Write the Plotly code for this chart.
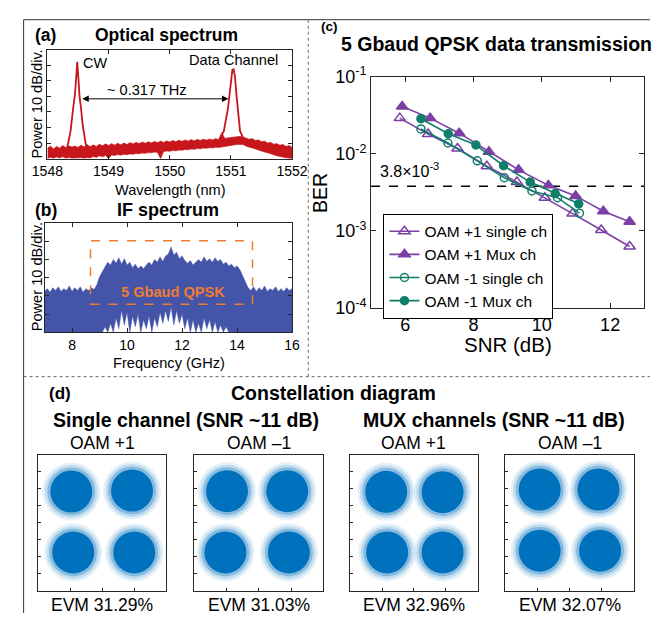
import plotly.graph_objects as go

W, H = 666, 623
FONT = "Liberation Sans, Arial, sans-serif"

# ---------------- data: (a) optical spectrum ----------------
osa_wl = [1548.00, 1548.05, 1548.10, 1548.15, 1548.20, 1548.25, 1548.30, 1548.35, 1548.40, 1548.45,
          1548.50, 1548.55, 1548.60, 1548.65, 1548.70, 1548.75, 1548.80, 1548.85, 1548.90, 1548.95,
          1549.00, 1549.05, 1549.10, 1549.15, 1549.20, 1549.25, 1549.30, 1549.35, 1549.40, 1549.45,
          1549.50, 1549.55, 1549.60, 1549.65, 1549.70, 1549.75, 1549.80, 1549.85, 1549.90, 1549.95,
          1550.00, 1550.05, 1550.10, 1550.15, 1550.20, 1550.25, 1550.30, 1550.35, 1550.40, 1550.45,
          1550.50, 1550.55, 1550.60, 1550.65, 1550.70, 1550.75, 1550.80, 1550.85, 1550.90, 1550.95,
          1551.00, 1551.05, 1551.10, 1551.15, 1551.20, 1551.25, 1551.30, 1551.35, 1551.40, 1551.45,
          1551.50, 1551.55, 1551.60, 1551.65, 1551.70, 1551.75, 1551.80, 1551.85, 1551.90, 1551.95,
          1552.00]
osa_floor_hi = [6.5, 8.0, 6.2, 7.8, 6.6, 8.4, 7.0, 8.2, 7.4, 8.0,
                7.2, 8.6, 7.4, 9.0, 7.6, 8.8, 7.8, 9.2, 8.2, 9.4,
                8.4, 9.6, 8.6, 9.8, 8.8, 10.0, 9.0, 10.2, 9.4, 10.4,
                9.6, 10.6, 9.8, 10.8, 10.0, 11.0, 10.2, 11.2, 10.4, 11.4,
                10.6, 11.6, 10.8, 11.8, 11.0, 12.0, 11.2, 12.2, 11.4, 12.3,
                11.6, 12.4, 11.8, 12.5, 12.0, 12.8, 12.2, 16.5, 13.0, 13.4,
                13.6, 13.8, 14.0, 14.2, 13.8, 13.2, 12.4, 12.8, 11.6, 12.0,
                10.8, 11.2, 10.0, 10.4, 9.2, 9.6, 8.6, 9.0, 7.8, 8.4,
                7.2]
osa_floor_lo = [0.3, 0.8, 0.3, 1.0, 0.4, 1.2, 0.3, 0.8, 0.3, 0.5,
                0.3, 0.5, 0.3, 0.6, 0.4, 1.4, 0.8, 1.8, 1.2, 2.0,
                0.0, 2.4, 2.0, 2.6, 2.2, 2.8, 2.5, 3.0, 2.8, 3.3,
                3.1, 3.6, 3.4, 3.9, 3.7, 4.2, 4.0, 0.0, 4.5, 4.9,
                4.7, 5.2, 5.0, 5.5, 5.4, 5.9, 5.7, 6.2, 6.0, 6.5,
                6.3, 6.8, 6.6, 7.0, 6.9, 7.3, 7.2, 7.6, 8.0, 8.4,
                8.6, 8.8, 9.0, 9.2, 9.0, 8.0, 7.6, 6.8, 6.2, 5.4,
                5.0, 4.2, 3.8, 3.0, 2.6, 1.8, 1.4, 0.8, 0.5, 0.3,
                0.3]
cw_wl = [1548.316, 1548.379, 1548.420, 1548.451, 1548.472, 1548.488, 1548.508, 1548.524,
         1548.550, 1548.576, 1548.617, 1548.654]
cw_db = [5.4, 17.8, 32.2, 41.5, 52.9, 62.2, 50.8, 40.5, 32.2, 21.9, 11.6, 3.3]
dc_wl = [1550.807, 1550.885, 1550.952, 1550.993, 1551.024, 1551.045, 1551.066, 1551.092,
         1551.118, 1551.149, 1551.196]
dc_db = [11.6, 17.8, 32.2, 44.6, 57.0, 57.4, 52.9, 40.5, 28.1, 17.8, 13.6]
spacing_wl = [1548.545, 1550.96]
spacing_db = 38.4
osa_ticks = [1548, 1549, 1550, 1551, 1552]

# ---------------- data: (b) IF spectrum ----------------
if_freq = [7.0, 7.1, 7.2, 7.3, 7.4, 7.5, 7.6, 7.7, 7.8, 7.9,
           8.0, 8.1, 8.2, 8.3, 8.4, 8.5, 8.6, 8.7, 8.8, 8.9,
           9.0, 9.1, 9.2, 9.3, 9.4, 9.5, 9.6, 9.7, 9.8, 9.9,
           10.0, 10.1, 10.2, 10.3, 10.4, 10.5, 10.6, 10.7, 10.8, 10.9,
           11.0, 11.1, 11.2, 11.3, 11.4, 11.5, 11.6, 11.7, 11.8, 11.9,
           12.0, 12.1, 12.2, 12.3, 12.4, 12.5, 12.6, 12.7, 12.8, 12.9,
           13.0, 13.1, 13.2, 13.3, 13.4, 13.5, 13.6, 13.7, 13.8, 13.9,
           14.0, 14.1, 14.2, 14.3, 14.4, 14.5, 14.6, 14.7, 14.8, 14.9,
           15.0, 15.1, 15.2, 15.3, 15.4, 15.5, 15.6, 15.7, 15.8, 15.9,
           16.0]
if_hi = [22.5, 24.0, 22.0, 24.5, 23.0, 25.0, 22.5, 24.0, 23.0, 25.5,
         22.5, 24.5, 23.0, 25.0, 22.0, 24.0, 23.0, 24.5, 23.5, 26.0,
         30.5, 33.5, 36.0, 38.5, 37.0, 40.0, 38.0, 41.0, 37.5, 40.5,
         37.0, 38.5, 35.5, 37.5, 35.0, 36.5, 35.0, 37.0, 38.5, 37.0,
         40.0, 38.5, 41.5, 39.0, 42.0, 43.0, 47.0, 42.5, 44.0, 40.5,
         42.0, 39.5, 38.0, 39.5, 37.0, 38.5, 40.0, 38.5, 41.5, 39.0,
         40.5, 38.5, 41.0, 39.0, 40.0, 37.5, 38.5, 36.5, 37.5, 35.5,
         36.5, 34.5, 31.0, 27.0, 24.5, 23.0, 25.0, 22.5, 24.5, 23.0,
         25.5, 22.5, 24.0, 23.0, 25.0, 22.5, 24.0, 22.5, 24.5, 23.0,
         24.0]
if_lo = [0, 0, 0, 0, 0, 0, 0, 0, 0, 0,
         0, 0, 0, 0, 0, 0, 0, 0, 0, 0,
         0, 0, 3, 0, 5, 0, 8, 2, 12, 4,
         11, 0, 9, 3, 10, 0, 7, 2, 9, 0,
         8, 3, 11, 5, 12, 6, 14, 4, 12, 5,
         10, 2, 8, 0, 7, 0, 5, 0, 8, 2,
         7, 0, 6, 0, 4, 0, 3, 0, 0, 0,
         0, 0, 0, 0, 0, 0, 0, 0, 0, 0,
         0, 0, 0, 0, 0, 0, 0, 0, 0, 0,
         0]
qpsk_box_freq = [8.67, 14.56]
qpsk_box_db = [15.4, 50.4]
if_ticks = [8, 10, 12, 14, 16]

# ---------------- data: (c) BER vs SNR ----------------
snr_p1_single = [5.84, 6.67, 7.53, 8.39, 9.27, 10.09, 10.90, 11.74, 12.57]
ber_p1_single = [2.9e-2, 1.8e-2, 1.17e-2, 6.9e-3, 4.3e-3, 2.7e-3, 1.68e-3, 1.03e-3, 6.3e-4]
snr_p1_mux = [5.91, 6.73, 7.58, 8.45, 9.32, 10.19, 10.99, 11.80, 12.57]
ber_p1_mux = [4.1e-2, 2.9e-2, 1.85e-2, 1.06e-2, 6.2e-3, 3.9e-3, 2.85e-3, 1.8e-3, 1.32e-3]
snr_m1_single = [6.46, 7.25, 8.11, 8.90, 9.71, 10.46, 11.10]
ber_m1_single = [2.1e-2, 1.38e-2, 8.1e-3, 4.9e-3, 3.3e-3, 2.7e-3, 1.7e-3]
snr_m1_mux = [6.46, 7.26, 8.07, 8.88, 9.66, 10.39, 11.08]
ber_m1_mux = [2.85e-2, 1.82e-2, 1.3e-2, 7.0e-3, 4.3e-3, 3.05e-3, 2.25e-3]
fec_snr = [5, 13]
fec_ber = 3.8e-3
snr_ticks = [6, 8, 10, 12]
ber_ticks = [1e-4, 1e-3, 1e-2, 1e-1]
ber_ticktext = ["10<sup>-4</sup>", "10<sup>-3</sup>", "10<sup>-2</sup>", "10<sup>-1</sup>"]

# ---------------- data: (d) constellations (cluster centres) ----------------
const_labels = ["OAM +1", "OAM \u20131", "OAM +1", "OAM \u20131"]
const_evm = ["EVM 31.29%", "EVM 31.03%", "EVM 32.96%", "EVM 32.07%"]
const_i = [[-0.96, 0.93, -0.90, 1.00],
           [-0.98, 0.88, -1.03, 0.93],
           [-0.87, 0.90, -0.84, 0.90],
           [-0.93, 0.90, -0.93, 0.95]]
const_q = [[0.92, 0.95, -0.87, -0.87],
           [0.93, 0.93, -0.87, -0.87],
           [0.91, 0.90, -0.87, -0.87],
           [0.98, 0.98, -0.82, -0.82]]

# ---------------- helpers ----------------
def dxp(x0, x1):
    return [x0 / W, x1 / W]

def dyp(y0, y1):
    return [1 - y1 / H, 1 - y0 / H]

def px(x):
    return x / W

def py(y):
    return 1 - y / H

RED = "#C8161D"
BLUE_IF = "#4454A8"
ORANGE = "#EE7D31"
PURPLE = "#7B3FA6"
TEAL = "#0F7F6A"
CBLUE = "#0072BD"

fig = go.Figure()

# (a)
fig.add_trace(go.Scatter(x=osa_wl, y=osa_floor_lo, mode="lines", line=dict(width=0.6, color=RED),
                         xaxis="x", yaxis="y", showlegend=False, hoverinfo="skip"))
fig.add_trace(go.Scatter(x=osa_wl, y=osa_floor_hi, mode="lines", line=dict(width=0.8, color=RED),
                         fill="tonexty", fillcolor=RED, xaxis="x", yaxis="y", showlegend=False,
                         hoverinfo="skip"))
fig.add_trace(go.Scatter(x=cw_wl, y=cw_db, mode="lines", line=dict(width=1.8, color=RED),
                         xaxis="x", yaxis="y", showlegend=False))
fig.add_trace(go.Scatter(x=dc_wl, y=dc_db, mode="lines", line=dict(width=1.8, color=RED),
                         xaxis="x", yaxis="y", showlegend=False))

# (b)
fig.add_trace(go.Scatter(x=if_freq, y=if_lo, mode="lines", line=dict(width=0.5, color=BLUE_IF),
                         xaxis="x2", yaxis="y2", showlegend=False, hoverinfo="skip"))
fig.add_trace(go.Scatter(x=if_freq, y=if_hi, mode="lines", line=dict(width=0.5, color=BLUE_IF),
                         fill="tonexty", fillcolor=BLUE_IF, xaxis="x2", yaxis="y2",
                         showlegend=False, hoverinfo="skip"))

# (c)
fig.add_trace(go.Scatter(x=fec_snr, y=[fec_ber, fec_ber], mode="lines",
                         line=dict(color="black", width=1.4, dash="dash"),
                         xaxis="x3", yaxis="y3", showlegend=False))
series = [
    ("OAM +1 single ch", snr_p1_single, ber_p1_single, PURPLE, "triangle-up-open", 10),
    ("OAM +1 Mux ch", snr_p1_mux, ber_p1_mux, PURPLE, "triangle-up", 10),
    ("OAM -1 single ch", snr_m1_single, ber_m1_single, TEAL, "circle-open", 8),
    ("OAM -1 Mux ch", snr_m1_mux, ber_m1_mux, TEAL, "circle", 8),
]
for name, xs, ys, col, sym, sz in series:
    fig.add_trace(go.Scatter(x=xs, y=ys, mode="lines+markers", name=name,
                             line=dict(color=col, width=1.6),
                             marker=dict(symbol=sym, size=sz, color=col,
                                         line=dict(color=col, width=1.5)),
                             xaxis="x3", yaxis="y3"))

# (d) - each cluster drawn as a soft layered disc around its centre
halo_layers = [(58, 0.10), (53, 0.16), (48, 0.30)]
for k in range(4):
    xa = "x%d" % (k + 4)
    ya = "y%d" % (k + 4)
    for sz, op in halo_layers:
        fig.add_trace(go.Scatter(x=const_i[k], y=const_q[k], mode="markers",
                                 marker=dict(size=sz, color=CBLUE, opacity=op, line=dict(width=0)),
                                 xaxis=xa, yaxis=ya, showlegend=False, hoverinfo="skip"))
    fig.add_trace(go.Scatter(x=const_i[k], y=const_q[k], mode="markers",
                             marker=dict(size=42, color=CBLUE, line=dict(width=0)),
                             xaxis=xa, yaxis=ya, showlegend=False))

common = dict(showgrid=False, zeroline=False, showline=True, linecolor="#262626", linewidth=1,
              ticks="inside", mirror="ticks", tickcolor="#262626",
              tickfont=dict(family=FONT, size=14, color="black"))

layout = dict(
    width=W, height=H, margin=dict(l=0, r=0, t=0, b=0, pad=0), autosize=False,
    paper_bgcolor="white", plot_bgcolor="white",
    font=dict(family=FONT, color="black"),
    xaxis=dict(common, domain=dxp(33, 290), range=[1548, 1552], tickvals=osa_ticks, ticklen=4,
               anchor="y"),
    yaxis=dict(common, domain=dyp(39, 152), range=[0, 70], tickvals=[0, 10, 20, 30, 40, 50, 60, 70],
               showticklabels=False, ticklen=4, anchor="x"),
    xaxis2=dict(common, domain=dxp(30, 290), range=[7, 16], tickvals=if_ticks, ticklen=4,
                anchor="y2"),
    yaxis2=dict(common, domain=dyp(219, 332), range=[0, 60], tickvals=[0, 10, 20, 30, 40, 50, 60],
                showticklabels=False, ticklen=4, anchor="x2"),
    xaxis3=dict(common, domain=dxp(373, 660), range=[5, 13], tickvals=snr_ticks, ticklen=5,
                tickfont=dict(family=FONT, size=18, color="black"), anchor="y3"),
    yaxis3=dict(common, domain=dyp(67, 307), type="log", range=[-4, -1], tickvals=ber_ticks,
                ticktext=ber_ticktext, ticklen=5,
                tickfont=dict(family=FONT, size=18, color="black"), anchor="x3"),
    legend=dict(x=px(386), y=py(209), xanchor="left", yanchor="top", bgcolor="white",
                bordercolor="black", borderwidth=1, font=dict(family=FONT, size=15.5, color="black"),
                itemwidth=30, tracegroupgap=0, traceorder="normal"),
    showlegend=True,
)
box_x = [(23, 158), (187, 323), (351, 485), (514, 649)]
for k, (x0, x1) in enumerate(box_x):
    layout["xaxis%d" % (k + 4)] = dict(showgrid=False, zeroline=False, showline=True,
                                       linecolor="#262626", linewidth=1, mirror=True,
                                       ticks="inside", ticklen=3, tickcolor="#262626",
                                       domain=dxp(x0, x1), range=[-2, 2], tickvals=[-1, 0, 1],
                                       showticklabels=False, anchor="y%d" % (k + 4))
    layout["yaxis%d" % (k + 4)] = dict(showgrid=False, zeroline=False, showline=True,
                                       linecolor="#262626", linewidth=1, mirror=True,
                                       ticks="inside", ticklen=3, tickcolor="#262626",
                                       domain=dyp(459, 600), range=[-2, 2],
                                       tickvals=[-1.5, -1, -0.5, 0, 0.5, 1, 1.5],
                                       showticklabels=False, anchor="x%d" % (k + 4))
fig.update_layout(**layout)

anns = []

def ann(text, x, y, size, bold=False, color="black", angle=0, xanchor="center"):
    t = "<b>%s</b>" % text if bold else text
    anns.append(dict(text=t, x=px(x), y=py(y), xref="paper", yref="paper", showarrow=False,
                     xanchor=xanchor, yanchor="middle", textangle=angle,
                     font=dict(family=FONT, size=size, color=color)))

# (a) texts
ann("(a)", 31, 24, 17.5, bold=True)
ann("Optical spectrum", 158, 24, 17.5, bold=True)
ann("CW", 68, 53, 14.4, xanchor="left")
ann("Data Channel", 229, 50, 14.6)
ann("~ 0.317 THz", 138, 81, 14.6)
ann("Power 10 dB/div.", 22, 95, 14.6, angle=-90)
ann("Wavelength (nm)", 162, 185, 14.6)
# (b) texts
ann("(b)", 31, 205, 17.5, bold=True)
ann("IF spectrum", 160, 205, 18, bold=True)
ann("Power 10 dB/div.", 22, 274, 14.6, angle=-90)
ann("Frequency (GHz)", 161, 364, 14.6)
ann("5 Gbaud QPSK", 165, 290, 14.6, bold=True, color=ORANGE)
# (c) texts
ann("(c)", 329, 15, 13.5, bold=True)
ann("5 Gbaud QPSK data transmission", 505, 33, 19.5, bold=True)
ann("BER", 320, 188, 19.5, angle=-90)
ann("SNR (dB)", 517, 345, 20.5)
ann("3.8\u00d710<sup>-3</sup>", 380, 164, 16, xanchor="left")
# (d) texts
ann("(d)", 46, 395, 17, bold=True)
ann("Constellation diagram", 333, 395, 19.5, bold=True)
ann("Single channel (SNR ~11 dB)", 179, 423, 19.5, bold=True)
ann("MUX channels (SNR ~11 dB)", 502, 423, 19.5, bold=True)
for k, (x0, x1) in enumerate(box_x):
    cx = (x0 + x1) / 2
    ann(const_labels[k], cx, 447, 17.5)
    ann(const_evm[k], cx, 615, 17.5)

# double arrow in (a)
anns.append(dict(x=spacing_wl[1], y=spacing_db, ax=spacing_wl[0], ay=spacing_db,
                 xref="x", yref="y", axref="x", ayref="y", text="", showarrow=True,
                 arrowhead=2, arrowside="end+start", arrowsize=1.3, arrowwidth=1,
                 arrowcolor="black"))

shapes = [
    dict(type="rect", xref="x2", yref="y2", x0=qpsk_box_freq[0], x1=qpsk_box_freq[1],
         y0=qpsk_box_db[0], y1=qpsk_box_db[1], line=dict(color=ORANGE, width=1.5, dash="dash")),
    dict(type="line", xref="paper", yref="paper", x0=px(8), x1=1, y0=py(8), y1=py(8),
         line=dict(color="#333333", width=1)),
    dict(type="line", xref="paper", yref="paper", x0=px(8), x1=px(8), y0=py(8), y1=0,
         line=dict(color="#333333", width=1)),
    dict(type="line", xref="paper", yref="paper", x0=px(307), x1=px(307), y0=py(8), y1=py(378),
         line=dict(color="#666666", width=1, dash="dot")),
    dict(type="line", xref="paper", yref="paper", x0=px(8), x1=1, y0=py(378), y1=py(378),
         line=dict(color="#666666", width=1, dash="dot")),
]
fig.update_layout(annotations=anns, shapes=shapes)

fig.write_html("out.html",
               post_script="document.body.style.margin='0px';document.body.style.padding='0px';"
                           "document.body.style.overflow='hidden';")
